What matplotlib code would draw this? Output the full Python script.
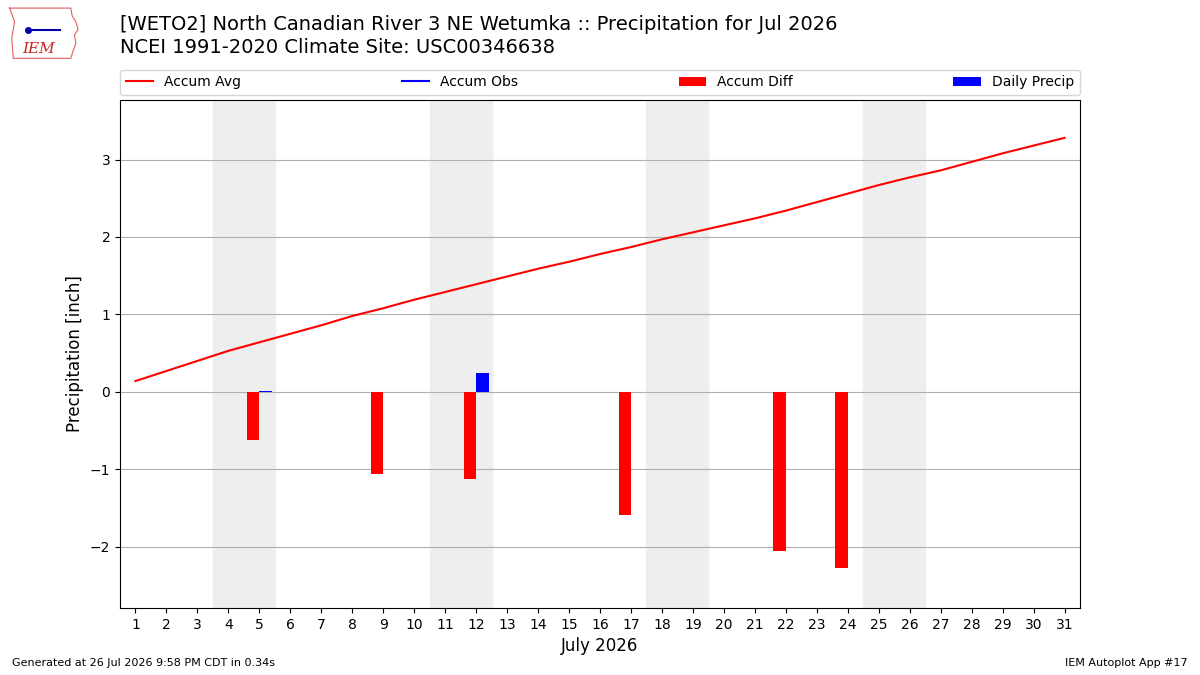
import matplotlib
matplotlib.use("Agg")
import matplotlib.pyplot as plt
import numpy as np

# data
days = list(range(1, 32))
accum_avg = [0.14, 0.27, 0.40, 0.53, 0.64, 0.75, 0.86, 0.98, 1.08, 1.19,
             1.29, 1.39, 1.49, 1.59, 1.68, 1.78, 1.87, 1.97, 2.06, 2.15,
             2.24, 2.34, 2.45, 2.56, 2.67, 2.77, 2.86, 2.97, 3.08, 3.18, 3.28]
diff_days = [5, 9, 12, 17, 22, 24]
accum_diff = [-0.62, -1.06, -1.12, -1.59, -2.06, -2.28]
precip_days = [5, 12]
daily_precip = [0.01, 0.25]
weekends = [(3.5, 5.5), (10.5, 12.5), (17.5, 19.5), (24.5, 26.5)]

fig = plt.figure(figsize=(12, 6.75), dpi=100)
ax = fig.add_axes([0.1, 0.0993, 0.8, 0.7527])

for a, b in weekends:
    ax.axvspan(a, b, color='#eeeeee', zorder=0)

ax.plot(days, accum_avg, color='r', lw=1.5, label='Accum Avg', zorder=3)
ax.plot([], [], color='b', lw=1.5, label='Accum Obs')
ax.bar(np.array(diff_days) - 0.4, accum_diff, width=0.4, align='edge',
       color='r', label='Accum Diff', zorder=3)
ax.bar(precip_days, daily_precip, width=0.4, align='edge',
       color='b', label='Daily Precip', zorder=3)

ax.set_xlim(0.5, 31.5)
ax.set_ylim(-2.79, 3.77)
ax.set_xticks(days)
ax.set_yticks([-2, -1, 0, 1, 2, 3])
ax.set_yticklabels(['\u22122', '\u22121', '0', '1', '2', '3'])
ax.yaxis.grid(True, color='#b0b0b0', zorder=1)
ax.set_axisbelow(True)
ax.tick_params(labelsize=10)
ax.set_ylabel('Precipitation [inch]', fontsize=12)
ax.set_xlabel('July 2026', fontsize=12)

ax.legend(loc='lower left', bbox_to_anchor=(0, 1.01, 1, 0.1), ncol=4,
          mode='expand', fontsize=10, borderaxespad=0, frameon=True)

fig.text(0.1, 0.963, '[WETO2] North Canadian River 3 NE Wetumka :: Precipitation for Jul 2026',
         fontsize=14, va='center')
fig.text(0.1, 0.929, 'NCEI 1991-2020 Climate Site: USC00346638', fontsize=14, va='center')
fig.text(0.01, 0.013, 'Generated at 26 Jul 2026 9:58 PM CDT in 0.34s', fontsize=8)
fig.text(0.99, 0.013, 'IEM Autoplot App #17', fontsize=8, ha='right')

# rough logo
lax = fig.add_axes([0.005, 0.912, 0.063, 0.08])
ox = [0.05, 0.9, 0.92, 0.97, 1.0, 0.95, 0.97, 0.93, 0.9, 0.1, 0.08, 0.12, 0.05]
oy = [0.95, 0.95, 0.8, 0.7, 0.55, 0.45, 0.3, 0.15, 0.02, 0.02, 0.4, 0.7, 0.95]
lax.plot(ox, oy, color='#e06060', lw=0.8)
lax.plot([0.3, 0.75], [0.55, 0.55], color='#0000aa', lw=1.5)
lax.plot(0.3, 0.55, 'o', color='#0000aa', ms=4)
lax.text(0.45, 0.2, 'IEM', color='#cc2222', fontsize=11, style='italic',
         family='serif', ha='center', va='center')
lax.set_xlim(0, 1.05)
lax.set_ylim(0, 1)
lax.axis('off')

fig.savefig('out.png')
